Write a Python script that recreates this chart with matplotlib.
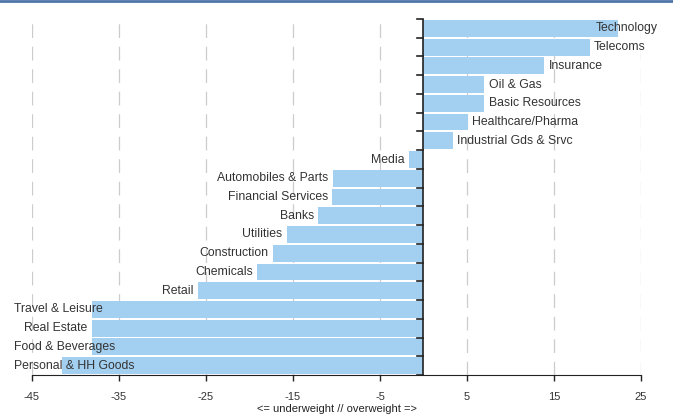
import matplotlib
matplotlib.use('Agg')
import matplotlib.pyplot as plt
from matplotlib.lines import Line2D

plt.rcParams['font.family'] = ['Liberation Sans', 'DejaVu Sans']

sectors = ['Technology', 'Telecoms', 'Insurance', 'Oil & Gas', 'Basic Resources',
           'Healthcare/Pharma', 'Industrial Gds & Srvc', 'Media',
           'Automobiles & Parts', 'Financial Services', 'Banks', 'Utilities',
           'Construction', 'Chemicals', 'Retail', 'Travel & Leisure',
           'Real Estate', 'Food & Beverages', 'Personal & HH Goods']
weights = [22.3, 19.1, 13.9, 7.0, 7.0, 5.1, 3.4, -1.7, -10.4, -10.5, -12.1,
           -15.7, -17.3, -19.1, -25.9, -38.1, -38.1, -38.1, -41.5]
xticks = [-45, -35, -25, -15, -5, 5, 15, 25]

fig = plt.figure(figsize=(6.73, 4.18), dpi=100)
ax = fig.add_axes([32 / 673, 1 - 375 / 418, 609 / 673, 356 / 418])

ypos = list(range(len(sectors)))
ax.barh(ypos, weights, height=0.9, color='#a3cff0', zorder=2)
ax.set_ylim(len(sectors) - 0.5, -0.5)
ax.set_xlim(-45, 25)

ax.set_xticks(xticks)
ax.set_xticklabels([str(t) for t in xticks], fontsize=8, color='#333333')
ax.tick_params(axis='x', direction='out', length=4, width=1, color='#222222', pad=8)
ax.set_xlabel('<= underweight // overweight =>', fontsize=8, color='#222222',
              labelpad=2)
for t in xticks:
    ax.axvline(t, color='#cccccc', lw=0.9, ls=(0, (11, 7)), zorder=1)

for side in ['top', 'right', 'left']:
    ax.spines[side].set_visible(False)
ax.spines['bottom'].set_color('#222222')
ax.set_yticks([])

# y axis at zero with ticks between bars
ax.axvline(0, color='#222222', lw=1.2, zorder=3)
for b in range(len(sectors) + 1):
    ax.plot([-0.7, 0], [b - 0.5, b - 0.5], color='#222222', lw=1.2, zorder=3,
            clip_on=False)

fig.canvas.draw()
renderer = fig.canvas.get_renderer()
left_px = 14
right_px = 658
for y, (name, w) in enumerate(zip(sectors, weights)):
    if w < 0:
        txt = ax.text(w - 0.5, y, name, ha='right', va='center', fontsize=8.8,
                      color='#333333', zorder=4)
        bb = txt.get_window_extent(renderer)
        if bb.x0 < left_px:
            txt.set_x(ax.transData.inverted().transform((left_px, 0))[0])
            txt.set_ha('left')
    else:
        txt = ax.text(w + 0.5, y, name, ha='left', va='center', fontsize=8.8,
                      color='#333333', zorder=4)
        bb = txt.get_window_extent(renderer)
        if bb.x1 > right_px:
            txt.set_x(ax.transData.inverted().transform((right_px, 0))[0])
            txt.set_ha('right')

fig.add_artist(Line2D([0, 1], [0.998, 0.998], transform=fig.transFigure,
                      color='#4f74a8', lw=2))

fig.savefig('out.png', dpi=100)
